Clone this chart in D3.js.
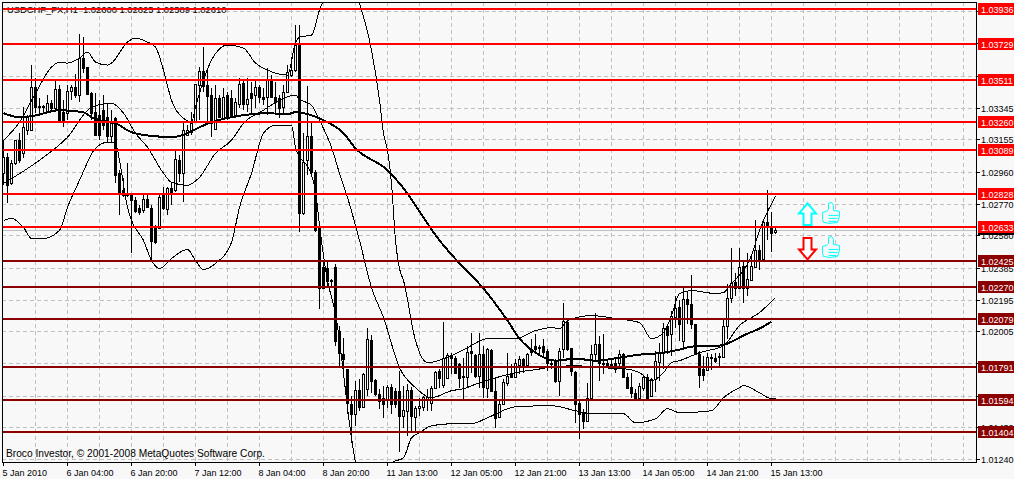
<!DOCTYPE html>
<html>
<head>
<meta charset="utf-8">
<script src="https://cdnjs.cloudflare.com/ajax/libs/d3/7.8.5/d3.min.js"></script>
<style>
html, body { margin: 0; padding: 0; background: #f8f8f8; overflow: hidden; }
text { font-family: "Liberation Sans", sans-serif; font-size: 9px; fill: #000; }
</style>
</head>
<body>
<div id="chart"></div>
<script>
// USDCHF H1 bars
let opens = [1.02952,1.03048,1.02892,1.03012,1.03150,1.03072,1.03210,1.03210,1.03468,1.03354,
1.03354,1.03318,1.03372,1.03342,1.03456,1.03318,1.03312,1.03444,1.03468,1.03420,
1.03642,1.03588,1.03432,1.03318,1.03300,1.03330,1.03288,1.03174,1.03282,1.02952,
1.02850,1.02832,1.02820,1.02790,1.02742,1.02730,1.02796,1.02742,1.02622,1.02622,
1.02826,1.02736,1.02862,1.02850,1.03030,1.02952,1.03180,1.03198,1.03258,1.03480,
1.03564,1.03480,1.03420,1.03216,1.03402,1.03282,1.03420,1.03402,1.03300,1.03366,
1.03492,1.03366,1.03432,1.03420,1.03468,1.03408,1.03408,1.03510,1.03408,1.03402,
1.03348,1.03438,1.03540,1.03570,1.03720,1.02712,1.03030,1.03174,1.02958,1.02622,
1.02388,1.02382,1.02316,1.02388,1.02010,1.01872,1.01782,1.01572,1.01512,1.01656,
1.01554,1.01662,1.01956,1.01716,1.01632,1.01608,1.01602,1.01674,1.01650,1.01650,
1.01500,1.01530,1.01656,1.01494,1.01548,1.01554,1.01602,1.01578,1.01668,1.01770,
1.01686,1.01728,1.01866,1.01848,1.01812,1.01740,1.01734,1.01890,1.01866,1.01740,
1.01872,1.01668,1.01896,1.01650,1.01494,1.01572,1.01698,1.01752,1.01734,1.01806,
1.01842,1.01806,1.01896,1.01920,1.01914,1.01920,1.01890,1.01818,1.01830,1.01710,
1.01902,1.02064,1.01908,1.01764,1.01578,1.01518,1.01470,1.01608,1.01872,1.01932,
1.01818,1.01818,1.01812,1.01818,1.01818,1.01872,1.01734,1.01674,1.01638,1.01608,
1.01668,1.01734,1.01620,1.01722,1.01824,1.01878,1.02040,1.01992,1.02094,1.02154,
1.01950,1.02202,1.02172,1.02052,1.01872,1.01782,1.01776,1.01848,1.01848,1.01860,
1.01854,1.02040,1.02208,1.02304,1.02268,1.02394,1.02268,1.02316,1.02388,1.02490,
1.02436,1.02658,1.02628,1.02600];

let highs = [1.03150,1.03072,1.03030,1.03150,1.03192,1.03348,1.03300,1.03600,1.03522,1.03402,
1.03360,1.03420,1.03390,1.03510,1.03480,1.03390,1.03480,1.03480,1.03546,1.03786,
1.03768,1.03588,1.03438,1.03432,1.03390,1.03420,1.03372,1.03330,1.03288,1.02970,
1.02922,1.03012,1.02832,1.02808,1.02760,1.02820,1.02820,1.02760,1.02640,1.02832,
1.02868,1.02868,1.02892,1.03090,1.03060,1.03252,1.03240,1.03318,1.03486,1.03588,
1.03708,1.03570,1.03462,1.03480,1.03420,1.03462,1.03438,1.03450,1.03402,1.03522,
1.03510,1.03522,1.03498,1.03504,1.03480,1.03462,1.03582,1.03540,1.03498,1.03420,
1.03480,1.03600,1.03648,1.03840,1.03840,1.03192,1.03474,1.03258,1.02970,1.02640,
1.02430,1.02430,1.02322,1.02406,1.02040,1.01968,1.01782,1.01620,1.01710,1.01722,
1.01758,1.02028,1.01986,1.01722,1.01662,1.01680,1.01686,1.01692,1.01668,1.01770,
1.01680,1.01692,1.01674,1.01560,1.01608,1.01620,1.01662,1.01680,1.01770,1.01782,
1.02064,1.01878,1.01878,1.01860,1.01818,1.01848,1.01920,1.01998,1.01872,1.01998,
1.01920,1.01908,1.01902,1.01728,1.01590,1.01722,1.01878,1.01812,1.01842,1.01860,
1.01848,1.01878,1.01962,1.01992,1.01926,1.01962,1.01902,1.01830,1.01842,1.01908,
1.02178,1.02082,1.01908,1.01770,1.01590,1.01542,1.01698,1.01926,1.02118,1.01980,
1.01992,1.01836,1.01836,1.01848,1.01896,1.01878,1.01758,1.01758,1.01662,1.01698,
1.01740,1.01752,1.01728,1.01890,1.01938,1.02058,1.02052,1.02130,1.02220,1.02196,
1.02280,1.02250,1.02340,1.02052,1.01890,1.01860,1.01878,1.01872,1.01878,1.01878,
1.02088,1.02292,1.02502,1.02352,1.02502,1.02430,1.02472,1.02460,1.02670,1.02520,
1.02670,1.02850,1.02718,1.02625];

let lows = [1.02880,1.02772,1.02880,1.03000,1.03012,1.03042,1.03180,1.03210,1.03312,1.03300,
1.03312,1.03312,1.03318,1.03330,1.03258,1.03228,1.03270,1.03390,1.03402,1.03378,
1.03552,1.03420,1.03270,1.03180,1.03150,1.03210,1.03138,1.03138,1.02892,1.02700,
1.02808,1.02808,1.02472,1.02712,1.02700,1.02712,1.02742,1.02418,1.02526,1.02616,
1.02730,1.02700,1.02760,1.02838,1.02898,1.02778,1.03180,1.03180,1.03258,1.03270,
1.03438,1.03258,1.03168,1.03210,1.03282,1.03270,1.03270,1.03282,1.03288,1.03342,
1.03330,1.03318,1.03300,1.03342,1.03372,1.03360,1.03300,1.03402,1.03300,1.03282,
1.03312,1.03438,1.03528,1.03558,1.02598,1.02700,1.02940,1.02940,1.02598,1.02142,
1.02268,1.02268,1.02280,1.01920,1.01800,1.01752,1.01512,1.01338,1.01440,1.01530,
1.01548,1.01620,1.01638,1.01620,1.01542,1.01488,1.01548,1.01512,1.01548,1.01284,
1.01428,1.01380,1.01410,1.01398,1.01500,1.01530,1.01530,1.01530,1.01662,1.01668,
1.01668,1.01722,1.01752,1.01752,1.01668,1.01590,1.01668,1.01758,1.01728,1.01668,
1.01608,1.01608,1.01650,1.01428,1.01488,1.01572,1.01680,1.01728,1.01728,1.01752,
1.01758,1.01806,1.01860,1.01872,1.01860,1.01860,1.01770,1.01782,1.01698,1.01620,
1.01848,1.01890,1.01740,1.01458,1.01362,1.01422,1.01470,1.01602,1.01830,1.01710,
1.01752,1.01800,1.01782,1.01758,1.01788,1.01728,1.01662,1.01608,1.01590,1.01608,
1.01650,1.01602,1.01620,1.01644,1.01710,1.01782,1.01872,1.01860,1.02028,1.01950,
1.01902,1.02052,1.02022,1.01872,1.01668,1.01710,1.01770,1.01776,1.01818,1.01788,
1.01848,1.01962,1.02178,1.02220,1.02262,1.02178,1.02220,1.02310,1.02382,1.02370,
1.02436,1.02550,1.02478,1.02589];

let closes = [1.03048,1.02880,1.03012,1.03150,1.03030,1.03228,1.03288,1.03468,1.03348,1.03348,
1.03348,1.03372,1.03342,1.03456,1.03270,1.03258,1.03444,1.03468,1.03420,1.03642,
1.03582,1.03426,1.03312,1.03180,1.03180,1.03240,1.03174,1.03252,1.02940,1.02832,
1.02820,1.02820,1.02790,1.02724,1.02718,1.02796,1.02748,1.02544,1.02538,1.02808,
1.02742,1.02862,1.02832,1.03036,1.02952,1.03210,1.03210,1.03252,1.03486,1.03564,
1.03474,1.03414,1.03252,1.03402,1.03288,1.03408,1.03288,1.03294,1.03378,1.03486,
1.03366,1.03396,1.03402,1.03468,1.03408,1.03396,1.03510,1.03408,1.03378,1.03342,
1.03438,1.03558,1.03570,1.03720,1.02712,1.03018,1.03174,1.02958,1.02610,1.02268,
1.02268,1.02310,1.02310,1.01950,1.01878,1.01842,1.01578,1.01512,1.01656,1.01554,
1.01752,1.01962,1.01710,1.01632,1.01590,1.01572,1.01674,1.01572,1.01572,1.01500,
1.01536,1.01656,1.01500,1.01548,1.01560,1.01614,1.01614,1.01668,1.01764,1.01728,
1.01848,1.01866,1.01848,1.01758,1.01728,1.01734,1.01884,1.01878,1.01740,1.01872,
1.01674,1.01902,1.01650,1.01488,1.01572,1.01704,1.01740,1.01734,1.01818,1.01842,
1.01806,1.01872,1.01884,1.01902,1.01908,1.01884,1.01818,1.01812,1.01710,1.01890,
1.02070,1.01902,1.01770,1.01572,1.01512,1.01470,1.01608,1.01872,1.01932,1.01818,
1.01812,1.01800,1.01800,1.01782,1.01872,1.01734,1.01668,1.01638,1.01608,1.01680,
1.01734,1.01608,1.01722,1.01830,1.01878,1.02028,1.01986,1.02100,1.02148,1.02052,
1.02202,1.02172,1.02052,1.01872,1.01746,1.01746,1.01854,1.01854,1.01830,1.01854,
1.02040,1.02208,1.02298,1.02268,1.02388,1.02268,1.02322,1.02394,1.02490,1.02430,
1.02658,1.02628,1.02592,1.02610];

// Bollinger bands and the slow average, sampled at these bar numbers
let upperBars = [0,4,8,12,14,16,19,21,23,26,27,31,33,36,38,40,42,45,47,48,52,56,60,63,66,71,73,74,77,79,80,83,86,89,92,94,95,96,97,98,99,100,103,106,112,116,121,128,133,137,139,141,147,153,159,162,165,167,169,172,178,180,182,187,189,193];
let upperBand = [1.03150,1.03258,1.03432,1.03588,1.03618,1.03612,1.03642,1.03678,1.03618,1.03600,1.03612,1.03738,1.03762,1.03738,1.03708,1.03570,1.03390,1.03282,1.03258,1.03348,1.03630,1.03720,1.03702,1.03612,1.03570,1.03540,1.03732,1.03768,1.03780,1.03930,1.03990,1.04200,1.04200,1.03972,1.03690,1.03390,1.03192,1.03090,1.02892,1.02550,1.02382,1.02310,1.01950,1.01818,1.01860,1.01908,1.01962,1.01962,1.02010,1.02028,1.02022,1.02070,1.02100,1.02082,1.02058,1.01962,1.01998,1.02100,1.02232,1.02250,1.02232,1.02238,1.02292,1.02460,1.02610,1.02814];

let middleBars = [0,9,16,22,27,30,33,36,40,42,46,49,53,57,60,65,70,73,74,77,79,82,84,86,89,92,95,99,103,107,112,115,119,125,131,133,136,143,149,155,159,162,165,167,169,174,180,184,189,193];
let middleBand = [1.02892,1.03030,1.03168,1.03348,1.03372,1.03312,1.03192,1.03108,1.02952,1.02898,1.02880,1.02928,1.03072,1.03150,1.03252,1.03330,1.03402,1.03420,1.03396,1.03360,1.03270,1.03108,1.02952,1.02808,1.02550,1.02268,1.02088,1.01788,1.01668,1.01608,1.01650,1.01662,1.01698,1.01740,1.01770,1.01776,1.01788,1.01800,1.01788,1.01782,1.01758,1.01710,1.01758,1.01818,1.01830,1.01878,1.01920,1.02040,1.02118,1.02208];

let lowerBars = [0,2,5,7,10,14,16,19,23,26,28,29,31,32,35,37,39,42,46,48,50,53,57,59,62,65,68,72,73,77,78,79,81,83,87,88,92,96,97,100,102,104,107,112,117,121,128,137,143,147,155,158,163,166,169,177,180,184,185,189,192,193];
let lowerBand = [1.02670,1.02682,1.02628,1.02562,1.02562,1.02610,1.02748,1.02910,1.03102,1.03138,1.03132,1.03030,1.02748,1.02670,1.02550,1.02430,1.02382,1.02442,1.02496,1.02430,1.02376,1.02412,1.02538,1.02748,1.02952,1.03192,1.03240,1.03240,1.03108,1.02940,1.02850,1.02640,1.02310,1.02112,1.01368,1.01218,1.00990,1.00990,1.01218,1.01248,1.01368,1.01398,1.01440,1.01452,1.01452,1.01488,1.01554,1.01560,1.01530,1.01512,1.01512,1.01458,1.01482,1.01542,1.01518,1.01530,1.01608,1.01668,1.01680,1.01638,1.01602,1.01602];

let slowBars = [0,4,7,14,20,22,24,28,32,34,38,42,46,49,52,57,62,66,71,73,77,80,85,88,96,99,109,114,120,126,129,133,138,143,148,154,159,163,169,172,179,186,189,192];
let slowAverage = [1.03312,1.03288,1.03294,1.03330,1.03318,1.03288,1.03270,1.03252,1.03198,1.03186,1.03174,1.03168,1.03192,1.03228,1.03258,1.03288,1.03306,1.03312,1.03306,1.03318,1.03300,1.03270,1.03192,1.03102,1.02970,1.02892,1.02550,1.02412,1.02262,1.02070,1.01962,1.01878,1.01830,1.01842,1.01830,1.01848,1.01866,1.01872,1.01896,1.01914,1.01920,1.01992,1.02022,1.02064];

let redLevels = [1.03936,1.03729,1.03511,1.03260,1.03089,1.02828,1.02633];
let darkLevels = [1.02425,1.02270,1.02079,1.01791,1.01594,1.01404];
let priceTicks = [1.03925,1.03730,1.03535,1.03345,1.03155,1.02960,1.02770,1.02580,1.02385,1.02195,1.02005,1.01815,1.01620,1.01430,1.01240];
let timeTicks = ["5 Jan 2010","6 Jan 04:00","6 Jan 20:00","7 Jan 12:00","8 Jan 04:00","8 Jan 20:00","11 Jan 13:00","12 Jan 05:00","12 Jan 21:00","13 Jan 13:00","14 Jan 05:00","14 Jan 21:00","15 Jan 13:00"];
let lastPrice = 1.02610;

let width = 1014, height = 479,
    plotLeft = 2, plotRight = 976, plotTop = 2, plotBottom = 462,
    bg = "#f8f8f8", gridColor = "#c0c0c0", red = "#ff0000", darkRed = "#8b0000";

let bars = opens.map(function (d, i) {
    return { i: i, open: d, high: highs[i], low: lows[i], close: closes[i] };
});

let x = d3.scaleLinear().domain([0, 243]).range([3.5, 975.5]);
let y = d3.scaleLinear().domain([1.0399, 1.01223]).range([0, 462]);
let px = function (v) { return Math.round(y(v)); };

let svg = d3.select("#chart").append("svg")
    .attr("width", width)
    .attr("height", height)
    .style("display", "block");

svg.append("defs").append("clipPath").attr("id", "plot")
    .append("rect")
    .attr("x", plotLeft).attr("y", plotTop)
    .attr("width", plotRight - plotLeft).attr("height", plotBottom - plotTop);

let plot = svg.append("g").attr("clip-path", "url(#plot)");

// grid, vertical lines every 8 bars
let gridBars = d3.range(8, 243, 8);
plot.selectAll(".vgrid").data(gridBars).enter().append("line")
    .attr("x1", function (d) { return x(d); })
    .attr("x2", function (d) { return x(d); })
    .attr("y1", plotTop).attr("y2", plotBottom)
    .attr("stroke", gridColor).attr("stroke-dasharray", "4,3")
    .attr("shape-rendering", "crispEdges");
plot.selectAll(".hgrid").data(priceTicks).enter().append("line")
    .attr("x1", plotLeft).attr("x2", plotRight)
    .attr("y1", function (d) { return px(d) + 0.5; })
    .attr("y2", function (d) { return px(d) + 0.5; })
    .attr("stroke", gridColor).attr("stroke-dasharray", "4,3")
    .attr("shape-rendering", "crispEdges");

// bid line
plot.append("line")
    .attr("x1", plotLeft).attr("x2", plotRight)
    .attr("y1", px(lastPrice) + 0.5).attr("y2", px(lastPrice) + 0.5)
    .attr("stroke", gridColor)
    .attr("shape-rendering", "crispEdges");

// candles
let candles = plot.append("g").selectAll("g").data(bars).enter().append("g");
candles.append("line")
    .attr("x1", function (d) { return x(d.i); })
    .attr("x2", function (d) { return x(d.i); })
    .attr("y1", function (d) { return px(d.high); })
    .attr("y2", function (d) { return px(d.low); })
    .attr("stroke", "#000")
    .attr("shape-rendering", "crispEdges");
candles.append("rect")
    .attr("x", function (d) { return x(d.i) - 1; })
    .attr("y", function (d) { return px(Math.max(d.open, d.close)) + 0.5; })
    .attr("width", 2)
    .attr("height", function (d) { return Math.max(1, px(Math.min(d.open, d.close)) - px(Math.max(d.open, d.close))); })
    .attr("fill", function (d) { return d.close >= d.open ? bg : "#000"; })
    .attr("stroke", "#000")
    .attr("shape-rendering", "crispEdges");

// indicator lines
function drawLine(barNums, values, w) {
    let line = d3.line()
        .x(function (d) { return x(d); })
        .y(function (d, i) { return y(values[i]); })
        .curve(d3.curveMonotoneX);
    plot.append("path")
        .attr("d", line(barNums))
        .attr("fill", "none")
        .attr("stroke", "#000")
        .attr("stroke-width", w)
        .attr("shape-rendering", "crispEdges");
}
drawLine(upperBars, upperBand, 1);
drawLine(middleBars, middleBand, 1);
drawLine(lowerBars, lowerBand, 1);
drawLine(slowBars, slowAverage, 2);

// header and footer text
svg.append("text").attr("x", 7).attr("y", 13)
    .style("font-size", "9.4px")
    .attr("xml:space", "preserve")
    .text("USDCHF_FX,H1  1.02600 1.02625 1.02589 1.02610");
svg.append("text").attr("x", 6).attr("y", 457)
    .style("font-size", "10.2px")
    .text("Broco Investor, \u00a9 2001-2008 MetaQuotes Software Corp.");

// arrows and thumbs next to the last bars
let arrowMarks = [
    { bar: 201, price: 1.02706, dir: -1, color: "#00ffff" },
    { bar: 201, price: 1.02502, dir: 1, color: "#ff0000" }
];
let thumbMarks = [
    { bar: 207, price: 1.02712 },
    { bar: 207, price: 1.02508 }
];
plot.selectAll(".arrow").data(arrowMarks).enter().append("polygon")
    .attr("points", function (d) {
        let s = d.dir;
        return [[0, 11 * s], [-8.5, 1 * s], [-4, 1 * s], [-4, -10.5 * s], [4, -10.5 * s], [4, 1 * s], [8.5, 1 * s]].join(" ");
    })
    .attr("transform", function (d) { return "translate(" + x(d.bar) + "," + y(d.price) + ")"; })
    .attr("fill", "#fff")
    .attr("stroke", function (d) { return d.color; })
    .attr("stroke-width", 2);
let thumbs = plot.selectAll(".thumb").data(thumbMarks).enter().append("g")
    .attr("transform", function (d) { return "translate(" + x(d.bar) + "," + y(d.price) + ")"; })
    .attr("fill", "none")
    .attr("stroke", "#00ffff");
thumbs.append("path")
    .attr("d", "M-9,-1 L-5,-2 L-3,-4 L-3,-10 L0,-11 L2,-8 L2,-3 L8,-2 L8,3 L6,9 L-2,10 L-8,9 L-9,6 Z")
    .attr("fill", bg);
thumbs.append("path").attr("d", "M-3,2 L7,2 M-3,5 L6,5 M-3,8 L5,8");

// level lines
let levels = redLevels.map(function (d) { return { price: d, color: red }; })
    .concat(darkLevels.map(function (d) { return { price: d, color: darkRed }; }));
svg.selectAll(".level").data(levels).enter().append("rect")
    .attr("x", plotLeft + 1).attr("width", plotRight - plotLeft - 1)
    .attr("y", function (d) { return px(d.price) - 1; })
    .attr("height", 2)
    .attr("fill", function (d) { return d.color; });

// frame
svg.append("rect")
    .attr("x", plotLeft + 0.5).attr("y", plotTop + 0.5)
    .attr("width", plotRight - plotLeft).attr("height", plotBottom - plotTop)
    .attr("fill", "none").attr("stroke", "#000")
    .attr("shape-rendering", "crispEdges");

// price axis
svg.selectAll(".ptick").data(priceTicks).enter().append("line")
    .attr("x1", plotRight + 1).attr("x2", plotRight + 4)
    .attr("y1", function (d) { return px(d) + 0.5; })
    .attr("y2", function (d) { return px(d) + 0.5; })
    .attr("stroke", "#000").attr("shape-rendering", "crispEdges");
svg.append("rect")
    .attr("x", plotRight + 2).attr("width", 38)
    .attr("y", px(lastPrice) - 6).attr("height", 11)
    .attr("fill", "#000");
svg.selectAll(".plabel").data(priceTicks).enter().append("text")
    .attr("x", plotRight + 5)
    .attr("y", function (d) { return px(d) + 4; })
    .text(function (d) { return d.toFixed(5); });

// level price boxes
let boxes = svg.selectAll(".box").data(levels).enter().append("g");
boxes.append("rect")
    .attr("x", plotRight + 2).attr("width", 38)
    .attr("y", function (d) { return px(d.price) - 6; })
    .attr("height", 12)
    .attr("fill", function (d) { return d.color; });
boxes.append("text")
    .attr("x", plotRight + 5)
    .attr("y", function (d) { return px(d.price) + 4; })
    .style("fill", "#fff")
    .text(function (d) { return d.price.toFixed(5); });

// time axis, labelled every 16 bars
let labelBars = timeTicks.map(function (d, i) { return i * 16; });
svg.selectAll(".ttick").data(labelBars).enter().append("line")
    .attr("x1", function (d) { return x(d); })
    .attr("x2", function (d) { return x(d); })
    .attr("y1", plotBottom + 1).attr("y2", plotBottom + 4)
    .attr("stroke", "#000").attr("shape-rendering", "crispEdges");
svg.selectAll(".tlabel").data(timeTicks).enter().append("text")
    .attr("x", function (d, i) { return x(labelBars[i]) - 1; })
    .attr("y", 476)
    .text(function (d) { return d; });
</script>
</body>
</html>
